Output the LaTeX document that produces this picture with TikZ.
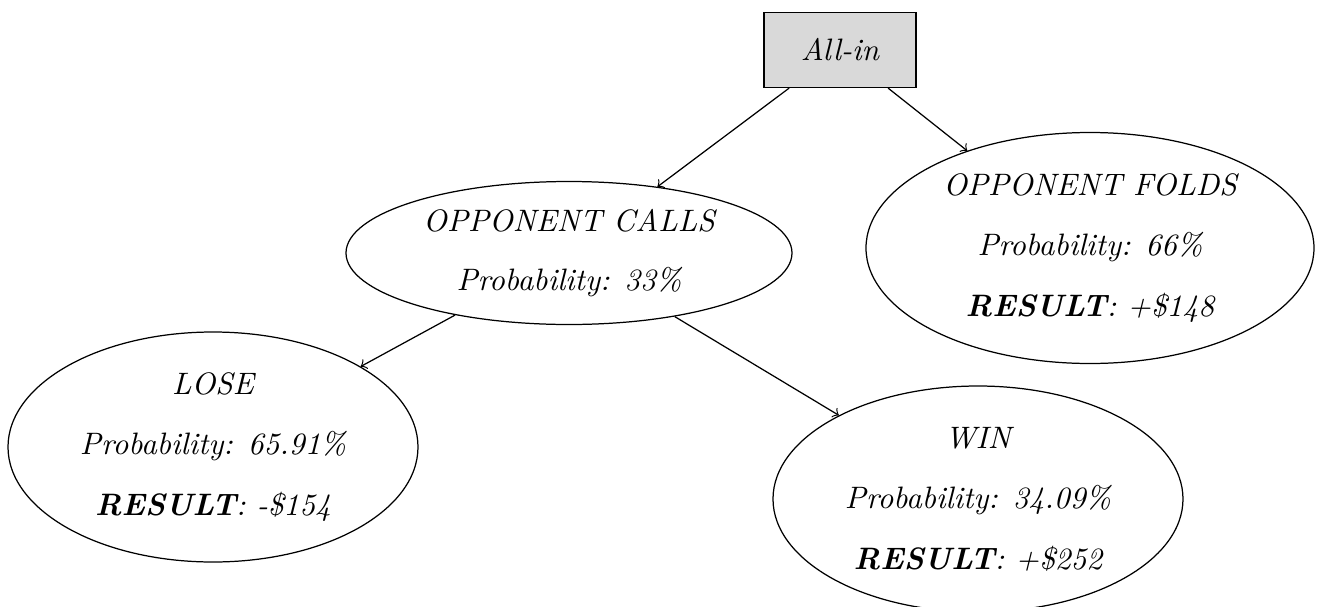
\documentclass[tikz,border=0pt]{standalone}
\usepackage{fontspec}
\usetikzlibrary{shapes.geometric}
\def\pxu{0.011338cm}
\tikzset{
  boxnode/.style={draw, fill=gray!30, rectangle, inner sep=0pt, minimum width=152*\pxu, minimum height=75*\pxu, font=\itshape},
  ellnode/.style={draw, ellipse, inner sep=0pt, align=center, font=\itshape},
  conn/.style={->}
}
\begin{document}
\begin{tikzpicture}[x=\pxu, y=-\pxu]
\useasboundingbox (0,0) rectangle (1323,607);
\node[boxnode] (allin) at (840,50) {All-in};
\node[ellnode, minimum width=446*\pxu, minimum height=143*\pxu] (calls) at (569,253)
  {OPPONENT CALLS\\[7pt]Probability: 33\%};
\node[ellnode, minimum width=448*\pxu, minimum height=231*\pxu] (folds) at (1090,248)
  {OPPONENT FOLDS\\[7.5pt]Probability: 66\%\\[7.5pt]\textbf{RESULT}: +\$148};
\node[ellnode, minimum width=410*\pxu, minimum height=230*\pxu] (lose) at (213,447)
  {LOSE\\[7.5pt]Probability: 65.91\%\\[7.5pt]\textbf{RESULT}: -\$154};
\node[ellnode, minimum width=410*\pxu, minimum height=226*\pxu] (win) at (978,499)
  {WIN\\[7.5pt]Probability: 34.09\%\\[7.5pt]\textbf{RESULT}: +\$252};
\draw[conn] (allin) -- (calls);
\draw[conn] (allin) -- (folds);
\draw[conn] (calls) -- (lose);
\draw[conn] (calls) -- (win);
\end{tikzpicture}
\end{document}
